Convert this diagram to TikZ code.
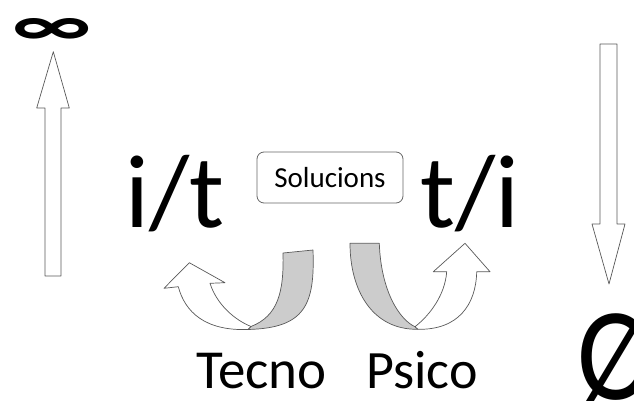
\documentclass[tikz,border=0pt]{standalone}
\usepackage{fontspec}
\setmainfont{Carlito}
\begin{document}
\begin{tikzpicture}[x=1pt,y=-1pt,
  outline/.style={draw=black!65, line width=0.7pt, line join=round},
  frontside/.style={outline, fill=white},
  backside/.style={outline, fill=black!20},
  bigtext/.style={inner sep=0pt, anchor=base west}]
\useasboundingbox (0,0) rectangle (634,401);

% texts
\node[inner sep=0pt] (inf) at (52,32) {\resizebox{79pt}{27pt}{\bfseries ∞}};
\node[bigtext, font=\fontsize{104}{104}\selectfont] (it) at (125,227) {i/t};
\node[bigtext, font=\fontsize{104}{104}\selectfont] (ti) at (420,227) {t/i};
\node[draw=black!60, line width=0.8pt, rounded corners=7pt, minimum width=146pt,
      minimum height=51pt, font=\fontsize{29}{29}\selectfont] (sol) at (330,177.5) {Solucions};
\node[bigtext, font=\fontsize{55}{55}\selectfont] (tecno) at (196,388) {Tecno};
\node[bigtext, font=\fontsize{54}{54}\selectfont] (psico) at (366,388) {Psico};
\node[bigtext, font=\fontsize{114}{114}\selectfont] (empty) at (577,399) {\scalebox{1.02}[1.16]{Ø}};

% straight block arrows
\draw[frontside] (45,276) -- (45,108) -- (36.7,108) -- (53.3,51.7) -- (69.3,108)
  -- (61,108) -- (61,276) -- cycle;
\draw[frontside] (600,44) -- (617,44) -- (617,224) -- (625,224) -- (609,284)
  -- (592,224) -- (600,224) -- cycle;

% left curved arrow (Tecno)
\draw[frontside] (178.3,286.7) .. controls (185,312) and (205,331) .. (248,329.5)
  -- (251,326.5) .. controls (235,320) and (217,305) .. (210,283.3)
  -- (225,282.7) -- (189.3,262.7) -- (164,288.3) -- cycle;
\draw[backside] (283,253) -- (313,250) .. controls (315,305) and (305,328) .. (248,329.5)
  -- (251,326.5) .. controls (278,316) and (284,292) .. (283,253) -- cycle;

% right curved arrow (Psico)
\draw[backside] (350,243.3) -- (379.3,243.3) .. controls (381,292) and (400,320) .. (415,326.7)
  -- (418,329.3) .. controls (372,330) and (350,290) .. (350,243.3) -- cycle;
\draw[frontside] (415,326.7) .. controls (430,315) and (445,295) .. (446.7,271.7)
  -- (433.3,271.7) -- (465,243.3) -- (490,271.7) -- (476.7,271.7)
  .. controls (476,305) and (458,330) .. (418,329.3) -- cycle;
\end{tikzpicture}
\end{document}
